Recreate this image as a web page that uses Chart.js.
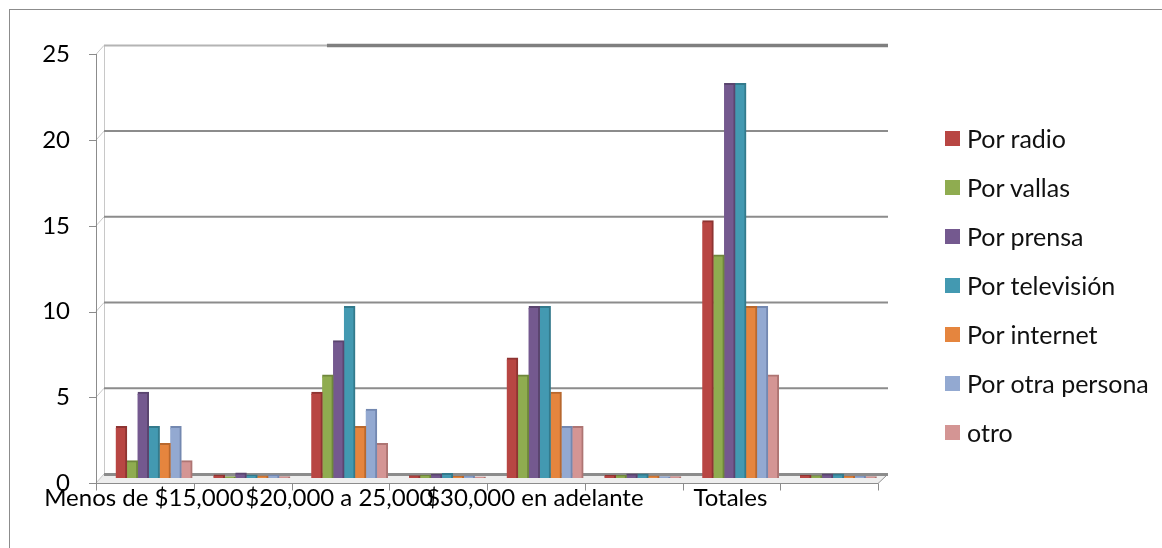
<!DOCTYPE html>
<html>
<head>
<meta charset="utf-8">
<script src="https://cdn.jsdelivr.net/npm/chart.js@4.4.1/dist/chart.umd.min.js"></script>
<style>
  html, body { margin: 0; padding: 0; background: #fff; }
  #wrap { position: relative; width: 1162px; height: 548px; overflow: hidden; }
  #frame { position: absolute; left: 9px; top: 9px; width: 1200px; height: 600px;
           border: 1px solid #8c8c8c; box-sizing: border-box; }
  #chart { position: absolute; left: 0; top: 0; }
  #legend { position: absolute; left: 945px; top: 0; font-family: Lato, "Open Sans", sans-serif;
            font-size: 25px; color: #111; }
  .item { position: absolute; left: 0; height: 30px; display: flex; align-items: center; white-space: nowrap; }
  .sw { width: 15px; height: 15px; margin-right: 7px; flex: none; }
</style>
</head>
<body>
<div id="wrap">
  <div id="frame"></div>
  <canvas id="chart" width="1162" height="548"></canvas>
  <div id="legend"></div>
</div>
<script>
// Income brackets; every bracket is followed by its share column (unlabelled)
const categories = ['Menos de $15,000', '', '$20,000 a 25,000', '', '$30,000 en adelante', '', 'Totales', ''];

const seriesNames = ['Por radio', 'Por vallas', 'Por prensa', 'Por televisión', 'Por internet', 'Por otra persona', 'otro'];

const porRadio       = [3, 0.17, 5, 0.13, 7, 0.16, 15, 0.15];
const porVallas      = [1, 0.06, 6, 0.16, 6, 0.14, 13, 0.13];
const porPrensa      = [5, 0.28, 8, 0.21, 10, 0.23, 23, 0.23];
const porTelevision  = [3, 0.17, 10, 0.26, 10, 0.23, 23, 0.23];
const porInternet    = [2, 0.11, 3, 0.08, 5, 0.11, 10, 0.10];
const porOtraPersona = [3, 0.17, 4, 0.11, 3, 0.07, 10, 0.10];
const otro           = [1, 0.06, 2, 0.05, 3, 0.07, 6, 0.06];

const yTicks = [0, 5, 10, 15, 20, 25];

const fills  = ['#B84643', '#8FAC50', '#74598F', '#4399B1', '#E5853E', '#93A9D1', '#D49594'];
const sides  = ['#8E3432', '#6E863C', '#5A456F', '#337A8C', '#B8682E', '#7388B0', '#AE7573'];

const seriesValues = [porRadio, porVallas, porPrensa, porTelevision, porInternet, porOtraPersona, otro];

const FONT = { family: 'Lato, "Open Sans", sans-serif', size: 24 };

// 3-D wall offsets relative to the bar plane
const BACK = { dx: -1, dy: -4 };
const FRONT = { dx: -9, dy: 5 };

const depthFrame = {
  id: 'depthFrame',
  beforeDatasetsDraw(chart) {
    const { ctx } = chart;
    const xs = chart.scales.x, ys = chart.scales.y;
    const n = chart.data.labels.length;
    const cw = (xs.right - xs.left) / n;
    const y0 = ys.getPixelForValue(0), yTop = ys.getPixelForValue(yTicks[yTicks.length - 1]);
    const backL = xs.left + BACK.dx, backR = xs.right + 1;
    const frontL = xs.left + FRONT.dx, frontR = xs.right + FRONT.dx;
    ctx.save();

    // floor slab
    ctx.fillStyle = '#eeeeee';
    ctx.beginPath();
    ctx.moveTo(frontL, y0 + FRONT.dy);
    ctx.lineTo(frontR, y0 + FRONT.dy);
    ctx.lineTo(backR, y0 + BACK.dy);
    ctx.lineTo(backL, y0 + BACK.dy);
    ctx.closePath();
    ctx.fill();

    // left wall edges
    ctx.strokeStyle = '#c8c8c8';
    ctx.lineWidth = 1;
    ctx.beginPath();
    ctx.moveTo(backL + 0.5, yTop + BACK.dy);
    ctx.lineTo(backL + 0.5, y0 + BACK.dy);
    yTicks.forEach(v => {
      const p = ys.getPixelForValue(v);
      ctx.moveTo(frontL, p + FRONT.dy);
      ctx.lineTo(backL, p + BACK.dy);
    });
    ctx.stroke();

    // back wall gridlines
    ctx.strokeStyle = '#8c8c8c';
    ctx.lineWidth = 2;
    ctx.beginPath();
    yTicks.forEach(v => {
      if (v === yTicks[yTicks.length - 1]) return;
      const p = ys.getPixelForValue(v) + BACK.dy;
      ctx.moveTo(backL, p);
      ctx.lineTo(backR, p);
    });
    ctx.stroke();
    // top edge of the back wall: light on the left, heavier further right
    const splitX = xs.left + cw * 2.27;
    ctx.strokeStyle = '#b4b4b4';
    ctx.lineWidth = 2;
    ctx.beginPath();
    ctx.moveTo(backL, yTop + BACK.dy);
    ctx.lineTo(splitX, yTop + BACK.dy);
    ctx.stroke();
    ctx.strokeStyle = '#7f7f7f';
    ctx.lineWidth = 3.5;
    ctx.beginPath();
    ctx.moveTo(splitX, yTop + BACK.dy);
    ctx.lineTo(backR, yTop + BACK.dy);
    ctx.stroke();

    // front vertical axis with ticks
    ctx.strokeStyle = '#8c8c8c';
    ctx.lineWidth = 1;
    ctx.beginPath();
    ctx.moveTo(frontL + 0.5, yTop + FRONT.dy);
    ctx.lineTo(frontL + 0.5, y0 + FRONT.dy);
    yTicks.forEach(v => {
      const p = Math.round(ys.getPixelForValue(v) + FRONT.dy) + 0.5;
      ctx.moveTo(frontL - 7, p);
      ctx.lineTo(frontL + 1, p);
    });
    // floor front edge, right slant and category ticks
    const fy = Math.round(y0 + FRONT.dy) + 0.5;
    ctx.moveTo(frontL, fy);
    ctx.lineTo(frontR, fy);
    ctx.lineTo(backR, y0 + BACK.dy);
    ctx.moveTo(backL, y0 + BACK.dy + 1.5);
    ctx.lineTo(backR, y0 + BACK.dy + 1.5);
    for (let i = 0; i <= n; i++) {
      const x = Math.round(xs.left + i * cw + FRONT.dx) + 0.5;
      ctx.moveTo(x, fy);
      ctx.lineTo(x, fy + 7);
    }
    ctx.stroke();
    ctx.restore();
  }
};

const chart = new Chart(document.getElementById('chart'), {
  type: 'bar',
  data: {
    labels: categories,
    datasets: seriesNames.map((name, i) => ({
      label: name,
      data: seriesValues[i],
      backgroundColor: fills[i],
      borderColor: sides[i],
      borderWidth: { top: 2, right: 2, bottom: 0, left: 0 },
      borderSkipped: false,
      inflateAmount: 0.6,
      categoryPercentage: 0.78,
      barPercentage: 1.0
    }))
  },
  options: {
    responsive: false,
    animation: false,
    layout: { padding: { left: 0, top: 49, right: 275, bottom: 0 } },
    plugins: { legend: { display: false }, tooltip: { enabled: false } },
    scales: {
      x: {
        grid: { display: false, drawTicks: false },
        border: { display: false },
        ticks: { autoSkip: false, maxRotation: 0, minRotation: 0, labelOffset: -10, padding: 6,
                 color: '#000', font: FONT },
        afterFit(s) { s.height = 70; }
      },
      y: {
        min: 0, max: 25,
        grid: { display: false, drawTicks: false },
        border: { display: false },
        ticks: { stepSize: 5, padding: 35, labelOffset: 5, color: '#000', font: FONT },
        afterFit(s) { s.width = 105; }
      }
    }
  },
  plugins: [depthFrame]
});

// legend built from the chart's own datasets
const legend = document.getElementById('legend');
chart.data.datasets.forEach((ds, i) => {
  const item = document.createElement('div');
  item.className = 'item';
  item.style.top = (123 + i * 49) + 'px';
  const sw = document.createElement('span');
  sw.className = 'sw';
  sw.style.background = ds.backgroundColor;
  const tx = document.createElement('span');
  tx.textContent = ds.label;
  item.appendChild(sw);
  item.appendChild(tx);
  legend.appendChild(item);
});
</script>
</body>
</html>
